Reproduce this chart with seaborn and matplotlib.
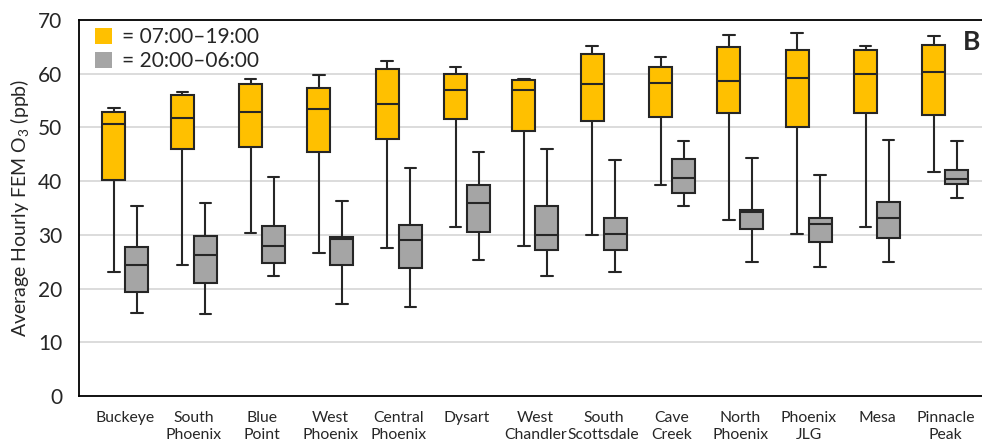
import numpy as np
import pandas as pd
import matplotlib
matplotlib.use("Agg")
import matplotlib.pyplot as plt
import seaborn as sns
from matplotlib.patches import Patch

sites = ["Buckeye", "South\nPhoenix", "Blue\nPoint", "West\nPhoenix", "Central\nPhoenix",
         "Dysart", "West\nChandler", "South\nScottsdale", "Cave\nCreek", "North\nPhoenix",
         "Phoenix\nJLG", "Mesa", "Pinnacle\nPeak"]
periods = ["07:00–19:00", "20:00–06:00"]

# daytime box statistics (ppb)
day_min = [23.1, 24.3, 30.4, 26.6, 27.6, 31.5, 27.9, 29.9, 39.3, 32.7, 30.2, 31.4, 41.7]
day_q1  = [40.2, 45.9, 46.3, 45.5, 47.8, 51.5, 49.3, 51.2, 51.9, 52.7, 50.0, 52.6, 52.4]
day_med = [50.6, 51.7, 52.9, 53.5, 54.4, 56.9, 57.0, 58.1, 58.3, 58.7, 59.2, 60.0, 60.4]
day_q3  = [52.8, 56.1, 58.0, 57.4, 60.8, 60.0, 58.9, 63.7, 61.3, 65.0, 64.4, 64.4, 65.3]
day_max = [53.7, 56.6, 59.0, 59.7, 62.3, 61.2, 59.1, 65.1, 63.2, 67.2, 67.6, 65.2, 67.0]

# nighttime box statistics (ppb)
night_min = [15.5, 15.3, 22.4, 17.2, 16.6, 25.3, 22.4, 23.0, 35.3, 25.0, 24.1, 24.9, 36.9]
night_q1  = [19.4, 21.0, 24.8, 24.4, 23.9, 30.6, 27.2, 27.1, 37.8, 31.1, 28.7, 29.4, 39.4]
night_med = [24.4, 26.3, 28.0, 29.3, 29.0, 36.0, 29.9, 30.1, 40.5, 34.2, 32.1, 33.1, 40.4]
night_q3  = [27.7, 29.8, 31.7, 29.6, 31.8, 39.2, 35.3, 33.1, 44.2, 34.7, 33.2, 36.2, 42.0]
night_max = [35.3, 35.9, 40.7, 36.3, 42.4, 45.4, 45.9, 44.0, 47.4, 44.4, 41.1, 47.6, 47.4]

yticks = [0, 10, 20, 30, 40, 50, 60, 70]
colors = ["#FFC000", "#A5A5A5"]

rows = []
for i, s in enumerate(sites):
    for v in (day_min[i], day_q1[i], day_med[i], day_q3[i], day_max[i]):
        rows.append((s, periods[0], v))
    for v in (night_min[i], night_q1[i], night_med[i], night_q3[i], night_max[i]):
        rows.append((s, periods[1], v))
df = pd.DataFrame(rows, columns=["site", "period", "o3"])

sns.set_style("white")
plt.rcParams["font.family"] = ["Lato", "DejaVu Sans"]
plt.rcParams["mathtext.fontset"] = "custom"
plt.rcParams["mathtext.rm"] = "Lato"
plt.rcParams["mathtext.it"] = "Lato:italic"

fig = plt.figure(figsize=(9.82, 4.44), dpi=100)
ax = fig.add_axes([79/982, 48/444, (991.8-79)/982, 376/444])

ax.yaxis.grid(True, color="#D9D9D9", linewidth=1.3, zorder=0)
ax.set_axisbelow(True)

sns.boxplot(data=df, x="site", y="o3", hue="period", order=sites, hue_order=periods,
            palette=colors, whis=(0, 100), width=0.674, gap=0, dodge=True,
            linecolor="#262626", linewidth=1.5, showfliers=False, legend=False, ax=ax,
            saturation=1)

ax.set_xlim(-0.68, 12.68)
ax.set_ylim(0, 70)
ax.set_yticks(yticks)
ax.set_yticklabels([str(t) for t in yticks], fontsize=15)
ax.tick_params(axis="y", length=0, pad=12)
ax.tick_params(axis="x", length=0, pad=11, labelsize=11.3)
for lab in ax.get_xticklabels():
    lab.set_linespacing(1.25)
ax.set_xlabel("")
ax.set_ylabel("Average Hourly FEM O$_3$ (ppb)", fontsize=14, labelpad=5)

for sp in ["left", "bottom", "top"]:
    ax.spines[sp].set_visible(True)
    ax.spines[sp].set_color("black")
    ax.spines[sp].set_linewidth(1.3)
ax.spines["right"].set_visible(False)

handles = [Patch(facecolor=c, edgecolor="none") for c in colors]
fig.legend(handles, ["= " + p for p in periods], loc="upper left",
           bbox_to_anchor=(95/982, 1 - 27/444), bbox_transform=fig.transFigure,
           frameon=False, fontsize=15, handlelength=0.8, handleheight=0.8,
           handletextpad=0.5, labelspacing=0.2, borderpad=0, borderaxespad=0)

fig.text(963/982, 1 - 30/444, "B", fontsize=19, fontweight="bold", ha="left", va="top")

fig.savefig("out.png", dpi=100)
